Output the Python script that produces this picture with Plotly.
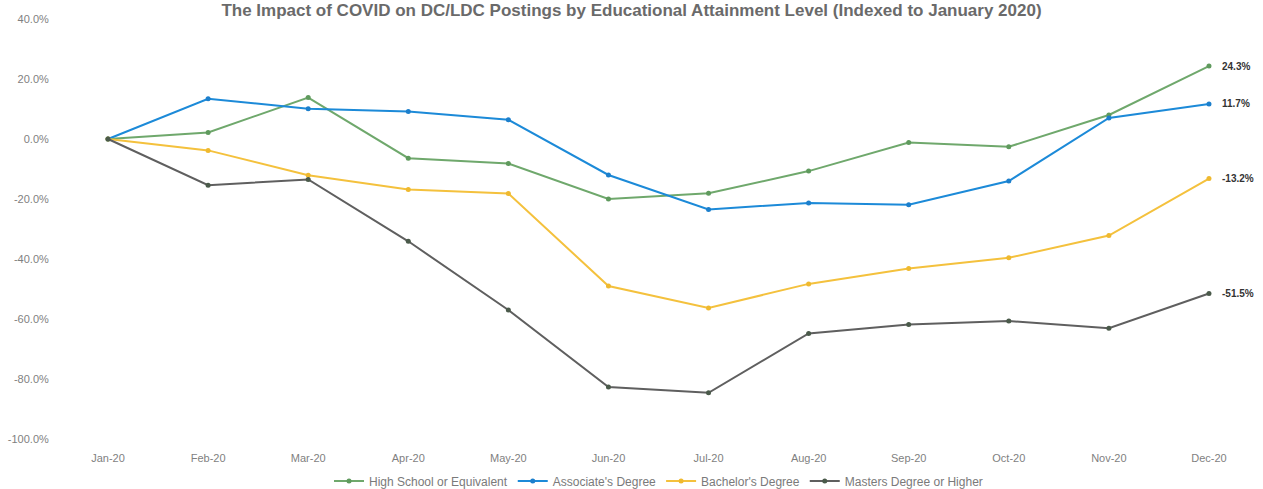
import plotly.graph_objects as go

months = ["Jan-20", "Feb-20", "Mar-20", "Apr-20", "May-20", "Jun-20",
          "Jul-20", "Aug-20", "Sep-20", "Oct-20", "Nov-20", "Dec-20"]

high_school = [0.0, 2.2, 13.8, -6.4, -8.2, -20.0, -18.1, -10.7, -1.2, -2.6, 8.0, 24.3]
associates = [0.0, 13.4, 10.1, 9.2, 6.4, -12.0, -23.5, -21.3, -21.9, -14.0, 7.0, 11.7]
bachelors = [0.0, -3.8, -12.1, -16.8, -18.2, -49.0, -56.3, -48.3, -43.2, -39.6, -32.2, -13.2]
masters = [0.0, -15.4, -13.5, -34.1, -57.0, -82.7, -84.6, -64.8, -61.8, -60.7, -63.1, -51.5]

series_names = ["High School or Equivalent", "Associate's Degree",
                "Bachelor's Degree", "Masters Degree or Higher"]
series_values = [high_school, associates, bachelors, masters]
series_colors = ["#6fa86c", "#1c8ad8", "#f4c13d", "#5f5f5f"]
marker_colors = ["#5f9a5d", "#1c7fcc", "#efb92f", "#4a5a4a"]

y_ticks = [40, 20, 0, -20, -40, -60, -80, -100]
y_tick_labels = ["40.0%", "20.0%", "0.0%", "-20.0%", "-40.0%", "-60.0%", "-80.0%", "-100.0%"]
title_text = ("The Impact of COVID on DC/LDC Postings by Educational Attainment "
              "Level (Indexed to January 2020)")

fig = go.Figure()
for name, vals, col, mcol in zip(series_names, series_values, series_colors, marker_colors):
    fig.add_trace(go.Scatter(
        x=months, y=vals, name=name, mode="lines+markers",
        line=dict(color=col, width=2),
        marker=dict(color=mcol, size=5),
    ))
    fig.add_annotation(
        x=months[-1], y=vals[-1], text="<b>%.1f%%</b>" % vals[-1],
        showarrow=False, xanchor="left", yanchor="middle", xshift=11,
        font=dict(family="Liberation Sans, Arial", size=10, color="#333333"),
    )

fig.update_layout(
    width=1263, height=489,
    margin=dict(l=73, r=19, t=19, b=50),
    paper_bgcolor="white", plot_bgcolor="white",
    title=dict(text="<b>" + title_text + "</b>", x=0.5, xanchor="center",
               y=1 - 4 / 489, yref="container", yanchor="top", pad=dict(t=0, b=0),
               font=dict(family="Liberation Sans, Arial", size=17, color="#6a6a6a")),
    showlegend=True,
    legend=dict(orientation="h", x=0.5, xanchor="center",
                yref="container", y=(489 - 481) / 489, yanchor="middle",
                font=dict(family="Liberation Sans, Arial", size=12, color="#7a7a7a"),
                itemwidth=30, tracegroupgap=0),
    font=dict(family="Liberation Sans, Arial", color="#7f7f7f"),
)
fig.update_xaxes(
    type="category", range=[-0.35, 11.35], showgrid=False, zeroline=False,
    showline=False, ticks="outside", ticklen=9, tickcolor="white",
    tickfont=dict(size=11, color="#7f7f7f"), automargin=False,
)
fig.update_yaxes(
    range=[-100, 40], tickmode="array", tickvals=y_ticks, ticktext=y_tick_labels,
    showgrid=False, zeroline=False, showline=False,
    ticks="outside", ticklen=21, tickcolor="white",
    tickfont=dict(size=11, color="#7f7f7f"), automargin=False,
)

fig.write_html("out.html")
